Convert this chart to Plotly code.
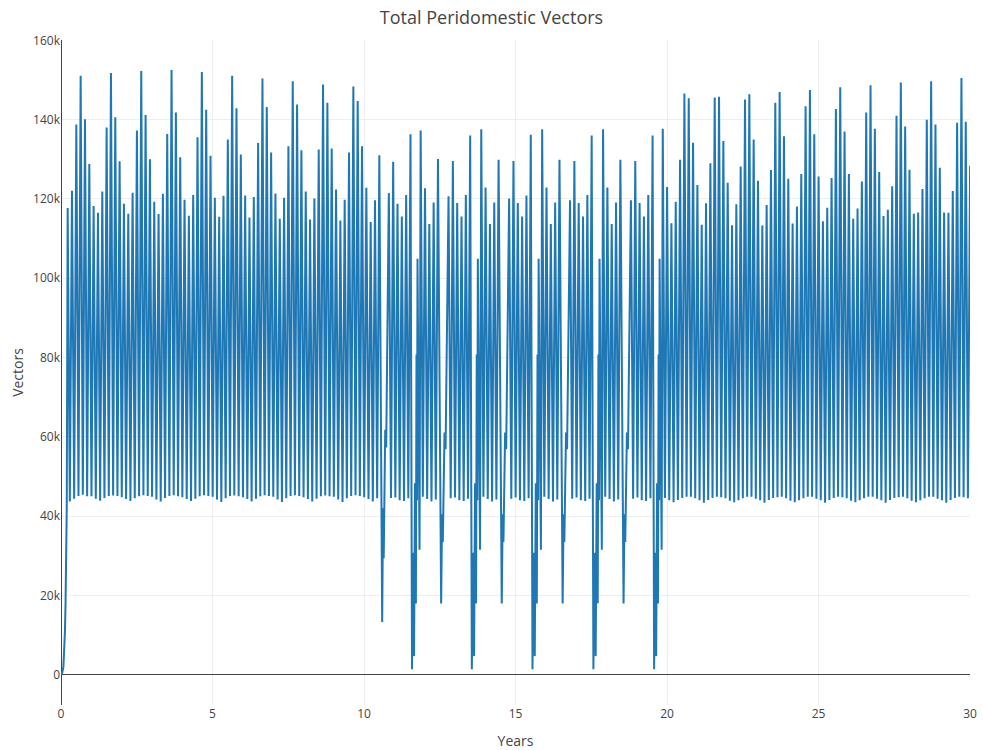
import plotly.graph_objects as go

P = 1 / 7  # spacing between seasonal spikes (years)

# ---- initial growth (years, thousands of vectors)
rise_years = [0.0, 0.04, 0.08, 0.11, 0.13, 0.15, 0.17, 0.19]
rise_vals = [0.0, 0.5, 2.0, 6.0, 11.0, 18.0, 28.0, 42.0]

# ---- regular spikes, first decade (thousands)
early_start = 0.22
early_peaks = [
    117.7, 122.1, 138.8, 151.1, 140.1, 128.8, 118.2,
    116.5, 121.9, 138.0, 151.8, 140.6, 129.5, 118.8,
    116.3, 121.6, 137.3, 152.3, 141.2, 130.0, 119.3,
    116.2, 121.3, 136.4, 152.5, 141.8, 130.5, 119.8,
    115.8, 121.0, 135.6, 152.0, 142.5, 130.9, 120.3,
    115.5, 120.8, 135.0, 151.1, 142.9, 131.2, 120.9,
    115.3, 120.5, 134.1, 150.4, 143.2, 131.7, 121.4,
    115.0, 120.3, 133.3, 149.7, 143.8, 132.3, 121.9,
    114.8, 120.1, 132.5, 148.9, 144.3, 132.7, 122.4,
    114.6, 119.8, 131.7, 148.4, 144.7, 133.3, 122.8,
    114.2, 119.7, 131.0,
]
early_troughs = [
    43.7, 44.4, 45.1, 45.4, 45.0, 45.0, 44.4,
    43.9, 44.6, 45.1, 45.2, 45.1, 44.8, 44.3,
    43.8, 44.5, 45.0, 45.3, 45.1, 44.9, 44.2,
    43.7, 44.6, 45.1, 45.3, 45.0, 44.8, 44.3,
    43.8, 44.4, 45.0, 45.3, 45.1, 44.9, 44.2,
    43.6, 44.5, 45.1, 45.2, 45.0, 44.8, 44.3,
    43.7, 44.4, 45.0, 45.3, 45.1, 44.9, 44.2,
    43.6, 44.5, 45.1, 45.3, 45.1, 44.8, 44.3,
    43.7, 44.4, 45.0, 45.2, 45.0, 44.9, 44.2,
    43.6, 44.5, 45.1, 45.3, 45.1, 44.8, 44.3,
    43.7, 44.5,
]

# ---- crash clusters (thousands) and where they fall inside the gap (fraction)
dip_a_first = [13.3, 42.0, 29.4, 61.8, 57.3]
dip_a = [18.0, 40.5, 33.5, 61.1, 56.9]
dip_a_pos = [0.30, 0.39, 0.46, 0.62, 0.72]
dip_b = [1.4, 30.8, 4.7, 48.3, 18.0, 80.8, 44.0, 104.9, 31.5]
dip_b_pos = [0.15, 0.25, 0.35, 0.44, 0.53, 0.59, 0.64, 0.69, 0.89]

# ---- runs of spikes between crashes (years 10.8 - 19.9)
run_starts = [10.82, 11.87, 12.79, 13.87, 14.79, 15.88, 16.80, 17.89, 18.81]
run_peaks = [
    [121.5, 129.4, 118.8, 115.6, 121.0, 136.3],
    [137.3, 122.7, 113.7, 119.1, 130.1],
    [120.7, 129.6, 119.0, 115.6, 121.0, 136.0],
    [137.6, 122.9, 113.7, 119.1, 129.9],
    [120.1, 129.6, 119.0, 115.6, 120.9, 136.2],
    [137.6, 122.9, 113.7, 119.1, 129.9],
    [119.7, 129.6, 119.0, 115.6, 121.0, 136.0],
    [137.6, 122.9, 113.7, 119.1, 129.9],
    [119.7, 129.6, 119.0, 115.6, 121.0, 136.0],
]
run_troughs = [
    [44.6, 44.7, 44.0, 43.8, 44.5],
    [44.9, 44.3, 43.7, 44.2],
    [44.5, 44.7, 44.0, 43.8, 44.4],
    [44.9, 44.3, 43.7, 44.2],
    [44.4, 44.7, 44.0, 43.8, 44.5],
    [44.9, 44.3, 43.7, 44.2],
    [44.4, 44.7, 44.0, 43.8, 44.4],
    [44.9, 44.3, 43.7, 44.2],
    [44.4, 44.7, 44.0, 43.8, 44.5],
]
run_dips = [dip_b, dip_a, dip_b, dip_a, dip_b, dip_a, dip_b, dip_a, dip_b]

# ---- regular spikes, last decade (thousands)
late_start = 19.86
late_peaks = [
    137.7,
    123.0, 113.9, 119.3, 129.9, 146.6, 145.4, 134.2,
    123.5, 113.5, 118.9, 129.0, 145.6, 145.8, 134.6,
    124.1, 113.4, 118.7, 128.2, 145.1, 146.4, 135.0,
    124.6, 113.3, 118.5, 127.3, 144.3, 147.0, 135.8,
    125.1, 113.8, 118.1, 126.3, 143.4, 147.5, 136.3,
    125.7, 114.4, 117.8, 125.3, 142.7, 148.2, 137.0,
    126.3, 115.0, 117.6, 124.4, 141.8, 148.7, 137.7,
    126.8, 115.7, 117.3, 123.2, 141.0, 149.4, 138.3,
    127.4, 116.3, 116.6, 122.5, 140.0, 149.7, 138.8,
    127.9, 116.6, 116.5, 122.0, 139.2, 150.5, 139.5,
    128.4,
]
late_troughs = [
    44.6,
    44.0, 43.5, 44.1, 44.6, 44.9, 44.9, 44.5,
    44.0, 43.4, 44.1, 44.6, 44.9, 44.8, 44.5,
    43.9, 43.5, 44.0, 44.5, 44.9, 44.9, 44.4,
    44.0, 43.4, 44.1, 44.6, 44.8, 44.9, 44.5,
    43.9, 43.5, 44.0, 44.5, 44.9, 44.9, 44.4,
    44.0, 43.4, 44.1, 44.6, 44.9, 44.8, 44.5,
    43.9, 43.5, 44.0, 44.5, 44.9, 44.9, 44.4,
    44.0, 43.4, 44.1, 44.6, 44.8, 44.9, 44.5,
    43.9, 43.5, 44.0, 44.5, 44.9, 44.9, 44.4,
    44.0, 43.4, 44.1, 44.6, 44.9, 44.8, 44.5,
]


def spikes(start, peaks, troughs):
    ts, vs = [], []
    for i, p in enumerate(peaks):
        ts.append(start + i * P)
        vs.append(p)
        if i < len(troughs):
            ts.append(start + (i + 0.5) * P)
            vs.append(troughs[i])
    return ts, vs


def cluster(t_from, t_to, vals, pos):
    return [t_from + (t_to - t_from) * f for f in pos], list(vals)


years = list(rise_years)
vals = list(rise_vals)

t, v = spikes(early_start, early_peaks, early_troughs)
years += t
vals += v
last_t = t[-1]

dips_in_order = [dip_a_first] + run_dips
for idx, start in enumerate(run_starts):
    d = dips_in_order[idx]
    pos = dip_b_pos if len(d) == len(dip_b) else dip_a_pos
    ct, cv = cluster(last_t, start, d, pos)
    years += ct
    vals += cv
    t, v = spikes(start, run_peaks[idx], run_troughs[idx])
    years += t
    vals += v
    last_t = t[-1]

ct, cv = cluster(last_t, late_start, dips_in_order[-1], dip_b_pos)
years += ct
vals += cv
t, v = spikes(late_start, late_peaks, late_troughs)
years += t
vals += v

vectors = [x * 1000 for x in vals]

fig = go.Figure(
    go.Scatter(x=years, y=vectors, mode="lines",
               line=dict(color="#1f77b4", width=2))
)
fig.update_layout(
    template="none",
    width=983,
    height=750,
    margin=dict(l=61, r=13, t=40, b=45),
    title=dict(text="Total Peridomestic Vectors", x=0.5, xref="container",
               y=0.976, yref="container", yanchor="middle",
               font=dict(size=18, color="#444")),
    font=dict(family="Open Sans, verdana, arial, sans-serif", size=12, color="#444"),
    showlegend=False,
    plot_bgcolor="white",
    paper_bgcolor="white",
    xaxis=dict(title=dict(text="Years", font=dict(size=14)), range=[0, 30], dtick=5,
               gridcolor="#eee", zerolinecolor="#444", zeroline=True),
    yaxis=dict(title=dict(text="Vectors", font=dict(size=14)), range=[-7630, 160100],
               dtick=20000, gridcolor="#eee", zerolinecolor="#444", zeroline=True),
)
fig.write_html("out.html", config={"displayModeBar": False},
               post_script="document.body.style.margin='0';")
